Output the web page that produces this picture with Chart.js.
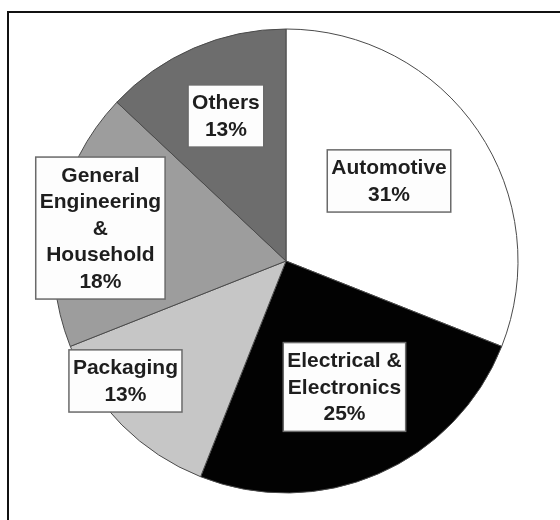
<!DOCTYPE html>
<html>
<head>
<meta charset="utf-8">
<script src="https://cdn.jsdelivr.net/npm/chart.js@4/dist/chart.umd.min.js"></script>
<style>
  html, body { margin: 0; padding: 0; background: #fff; }
  #wrap { position: relative; width: 560px; height: 520px; }
  #frame {
    position: absolute; left: 7px; top: 11px; width: 560px; height: 520px;
    border-top: 2px solid #111; border-left: 2px solid #111; pointer-events: none;
  }
</style>
</head>
<body>
<div id="wrap">
  <canvas id="pieChart" width="560" height="520"></canvas>
  <div id="frame"></div>
</div>
<script>
// sectors, clockwise from 12 o'clock
const sectors = [
  ["Automotive"],
  ["Electrical &", "Electronics"],
  ["Packaging"],
  ["General", "Engineering", "&", "Household"],
  ["Others"]
];
const shares = [31, 25, 13, 18, 13];

const fills = ["#ffffff", "#020202", "#c6c6c6", "#9d9d9d", "#6d6d6d"];
// label box centres, in units of the pie radius from the pie centre
const boxOffsets = [
  [0.444, -0.345],
  [0.252, 0.543],
  [-0.692, 0.517],
  [-0.800, -0.142],
  [-0.259, -0.625]
];

const boxLabels = {
  id: "boxLabels",
  afterDatasetsDraw(chart) {
    const ctx = chart.ctx;
    const arc = chart.getDatasetMeta(0).data[0];
    const cx = arc.x, cy = arc.y, r = arc.outerRadius;
    const lineH = 26.6;
    ctx.save();
    ctx.font = "bold 21px 'Liberation Sans', Arial, sans-serif";
    ctx.textAlign = "center";
    ctx.textBaseline = "middle";
    sectors.forEach((lines, i) => {
      const all = lines.concat([shares[i] + "%"]);
      const w = Math.max(...all.map(t => ctx.measureText(t).width)) + 8;
      const h = all.length * lineH + 9;
      const bx = cx + boxOffsets[i][0] * r;
      const by = cy + boxOffsets[i][1] * r;
      ctx.fillStyle = "#fdfdfd";
      ctx.fillRect(bx - w / 2, by - h / 2, w, h);
      ctx.strokeStyle = "#6a6a6a";
      ctx.lineWidth = 1.5;
      ctx.strokeRect(bx - w / 2, by - h / 2, w, h);
      ctx.fillStyle = "#1e1e1e";
      all.forEach((t, j) => {
        ctx.fillText(t, bx, by - h / 2 + 4.5 + lineH * (j + 0.5) + 1);
      });
    });
    ctx.restore();
  }
};

new Chart(document.getElementById("pieChart"), {
  type: "pie",
  data: {
    labels: sectors,
    datasets: [{
      data: shares,
      backgroundColor: fills,
      borderColor: "#4a4a4a",
      borderWidth: 1,
      radius: 232
    }]
  },
  options: {
    responsive: false,
    animation: false,
    layout: { padding: { left: 40, right: 28, top: 20, bottom: 18 } },
    plugins: {
      legend: { display: false },
      tooltip: { enabled: false }
    }
  },
  plugins: [boxLabels]
});
</script>
</body>
</html>
